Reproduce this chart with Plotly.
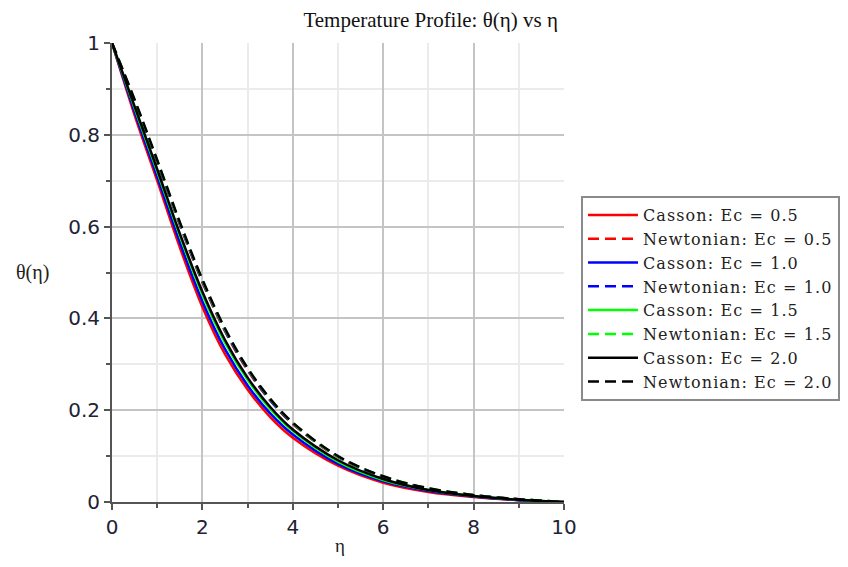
import plotly.graph_objects as go

eta = [0, 0.5, 1, 1.5, 2, 2.5, 3, 3.5, 4, 5, 6, 7, 8, 9, 10]

casson_05 = [1.000, 0.843, 0.700, 0.555, 0.425, 0.322, 0.245, 0.185, 0.140, 0.079, 0.042, 0.022, 0.011, 0.004, 0.000]
newton_05 = [1.000, 0.870, 0.740, 0.604, 0.479, 0.372, 0.287, 0.221, 0.170, 0.098, 0.055, 0.029, 0.015, 0.006, 0.000]
casson_10 = [1.000, 0.850, 0.709, 0.566, 0.437, 0.333, 0.254, 0.193, 0.147, 0.083, 0.045, 0.024, 0.012, 0.004, 0.000]
newton_10 = [1.000, 0.872, 0.742, 0.606, 0.481, 0.374, 0.289, 0.222, 0.171, 0.099, 0.055, 0.029, 0.015, 0.006, 0.000]
casson_15 = [1.000, 0.858, 0.720, 0.580, 0.452, 0.347, 0.266, 0.203, 0.155, 0.088, 0.048, 0.026, 0.013, 0.005, 0.000]
newton_15 = [1.000, 0.874, 0.744, 0.608, 0.483, 0.376, 0.291, 0.224, 0.172, 0.099, 0.056, 0.030, 0.015, 0.006, 0.000]
casson_20 = [1.000, 0.862, 0.725, 0.585, 0.458, 0.353, 0.271, 0.207, 0.158, 0.091, 0.050, 0.026, 0.013, 0.005, 0.000]
newton_20 = [1.000, 0.877, 0.745, 0.610, 0.485, 0.378, 0.292, 0.225, 0.173, 0.100, 0.056, 0.030, 0.015, 0.006, 0.000]

series = [
    ("Casson: Ec = 0.5", casson_05, "#ff0000", "solid"),
    ("Newtonian: Ec = 0.5", newton_05, "#ff0000", "11px,6px"),
    ("Casson: Ec = 1.0", casson_10, "#0000ff", "solid"),
    ("Newtonian: Ec = 1.0", newton_10, "#0000ff", "11px,6px"),
    ("Casson: Ec = 1.5", casson_15, "#00ff00", "solid"),
    ("Newtonian: Ec = 1.5", newton_15, "#00ff00", "11px,6px"),
    ("Casson: Ec = 2.0", casson_20, "#000000", "solid"),
    ("Newtonian: Ec = 2.0", newton_20, "#000000", "11px,6px"),
]

fig = go.Figure()
for name, ys, color, dash in series:
    fig.add_trace(go.Scatter(
        x=eta, y=ys, mode="lines",
        name='<span style="letter-spacing:1.1px">' + name + '</span>',
        line=dict(color=color, width=2.5, dash=dash, shape="spline"),
    ))

axis_common = dict(
    showline=True, linecolor="#555555", linewidth=2,
    ticks="outside", ticklen=6, tickwidth=1.5, tickcolor="#555555",
    showgrid=True, gridcolor="#c4c4c4", gridwidth=1.5,
    zeroline=False,
    tickfont=dict(family="DejaVu Sans", size=20, color="#222233"),
)

fig.update_xaxes(range=[0, 10], dtick=2, tick0=0,
                 minor=dict(dtick=1, ticks="outside", ticklen=4, tickcolor="#555555",
                            showgrid=True, gridcolor="#ebebeb", gridwidth=1.5),
                 **axis_common)
fig.update_yaxes(range=[0, 1], dtick=0.2, tick0=0,
                 minor=dict(dtick=0.1, ticks="outside", ticklen=4, tickcolor="#555555",
                            showgrid=True, gridcolor="#ebebeb", gridwidth=1.5),
                 **axis_common)

# page body has an 8px margin; size the figure so the plot area lands at the reference pixels
fig.update_layout(
    width=832, height=551,
    margin=dict(l=104, r=276, t=35, b=57, autoexpand=False),
    paper_bgcolor="white", plot_bgcolor="white",
    title=dict(text="Temperature Profile: θ(η) vs η", x=0.508, xanchor="center",
               y=0.978, yanchor="middle",
               font=dict(family="Liberation Serif", size=21, color="#111111")),
    legend=dict(x=1.0376, y=0.6667, xanchor="left", yanchor="top",
                bgcolor="white", bordercolor="#8a8a8a", borderwidth=2,
                font=dict(family="DejaVu Serif", size=16, color="#222222"),
                tracegroupgap=0, itemwidth=50),
    showlegend=True,
    annotations=[
        dict(text="η", xref="paper", yref="paper", x=0.504, y=-0.095,
             showarrow=False, xanchor="center", yanchor="middle",
             font=dict(family="Liberation Serif", size=19, color="#222222")),
        dict(text="θ(η)", xref="paper", yref="paper", x=-0.175, y=0.501,
             showarrow=False, xanchor="center", yanchor="middle",
             font=dict(family="Liberation Serif", size=20, color="#222222")),
    ],
)

fig.write_html("out.html")
